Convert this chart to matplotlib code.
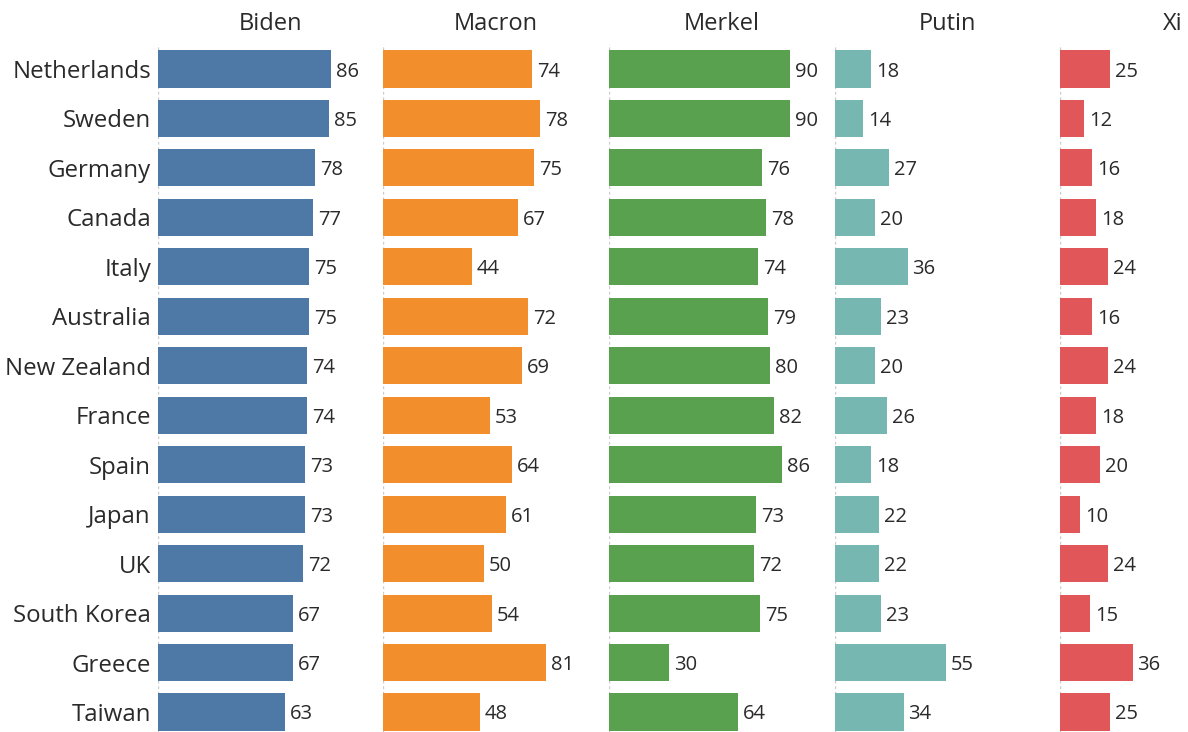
import matplotlib
matplotlib.use("Agg")
import matplotlib.pyplot as plt

countries = ["Netherlands", "Sweden", "Germany", "Canada", "Italy", "Australia",
             "New Zealand", "France", "Spain", "Japan", "UK", "South Korea",
             "Greece", "Taiwan"]
leaders = ["Biden", "Macron", "Merkel", "Putin", "Xi"]
biden = [86, 85, 78, 77, 75, 75, 74, 74, 73, 73, 72, 67, 67, 63]
macron = [74, 78, 75, 67, 44, 72, 69, 53, 64, 61, 50, 54, 81, 48]
merkel = [90, 90, 76, 78, 74, 79, 80, 82, 86, 73, 72, 75, 30, 64]
putin = [18, 14, 27, 20, 36, 23, 20, 26, 18, 22, 22, 23, 55, 34]
xi = [25, 12, 16, 18, 24, 16, 24, 18, 20, 10, 24, 15, 36, 25]
series = [biden, macron, merkel, putin, xi]
colors = ["#4e79a7", "#f28e2b", "#59a14f", "#76b7b2", "#e15759"]

plt.rcParams['font.family'] = ['Open Sans', 'DejaVu Sans']

W, H = 1188, 732
fig = plt.figure(figsize=(W / 100, H / 100), dpi=100)
lefts = [158, 383, 609, 835, 1060]
panel_w = 225
top_px, bot_px = 44.3, 736.7
n = len(countries)
for i, (name, vals, col, lx) in enumerate(zip(leaders, series, colors, lefts)):
    ax = fig.add_axes([lx / W, 1 - bot_px / H, panel_w / W, (bot_px - top_px) / H])
    ypos = list(range(n))
    ax.barh(ypos, vals, height=0.75, color=col)
    ax.set_ylim(n - 0.5, -0.5)
    ax.set_xlim(0, panel_w / 2.015)
    for y, v in zip(ypos, vals):
        ax.annotate(str(v), (v, y), xytext=(3.5, 0), textcoords="offset points",
                    ha="left", va="center_baseline", fontsize=14.5, color="#2a2a2a")
    for s in ax.spines.values():
        s.set_visible(False)
    ax.axvline(0, color="#cccccc", lw=1, ls=(0, (2, 2)), zorder=0)
    ax.set_xticks([])
    if i == 0:
        ax.set_yticks(ypos)
        ax.set_yticklabels(countries, fontsize=17.3, color="#2a2a2a")
        ax.tick_params(axis="y", length=0, pad=5)
    else:
        ax.set_yticks([])
    ax.set_title(name, fontsize=17, color="#2a2a2a", pad=10)

fig.savefig("out.png", dpi=100)
